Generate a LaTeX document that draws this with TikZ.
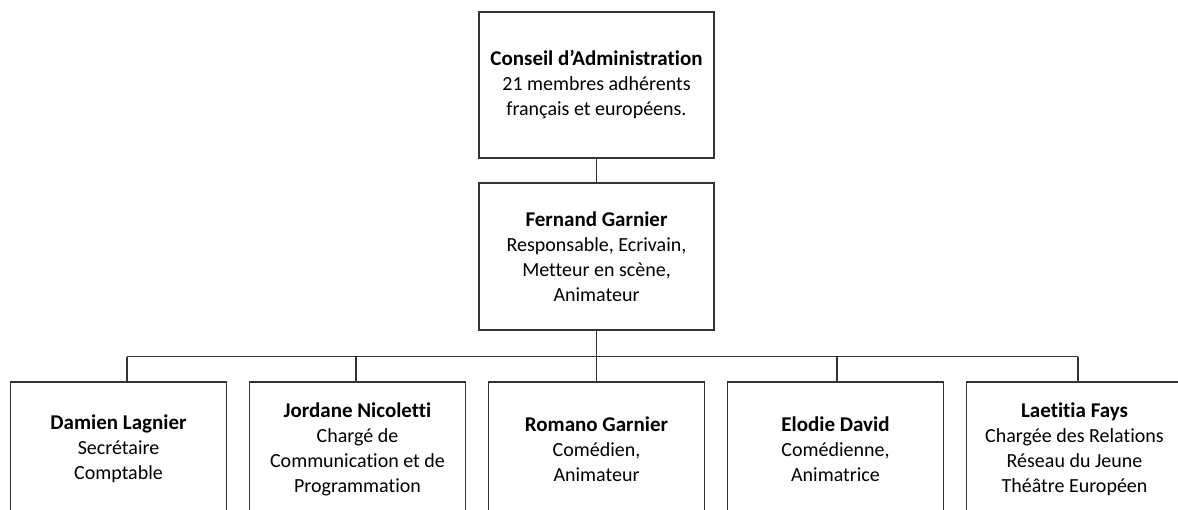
\documentclass[tikz,border=0pt]{standalone}
\usepackage{fontspec}
\setmainfont{Carlito}[Ligatures=NoCommon]
\newcommand{\nm}[1]{{\fontsize{21}{25}\selectfont\bfseries #1}}
\begin{document}
\begin{tikzpicture}[x=1pt,y=-1pt,
  box/.style={draw=black!80, line width=1.3pt, align=center, inner sep=0pt,
    text=black, font=\fontsize{20}{25}\selectfont},
  topbox/.style={box, minimum width=235pt, minimum height=146pt},
  lowbox/.style={box, minimum width=216pt, minimum height=134pt},
  link/.style={draw=black!80, line width=1.3pt}]
\useasboundingbox (0,0) rectangle (1178,509);
\begin{scope}
\clip (0,0) rectangle (1178,509);
\node[topbox] (ca) at (596.5,85) {\nm{Conseil d’Administration}\\21 membres adhérents\\français et européens.};
\node[topbox, minimum height=147pt] (fg) at (596.5,256.5) {\nm{Fernand Garnier}\\Responsable, Ecrivain,\\Metteur en scène,\\Animateur};
\node[lowbox] (dl) at (118.5,449) {\nm{Damien Lagnier}\\Secrétaire\\Comptable};
\node[lowbox] (jn) at (357.5,449) {\nm{Jordane Nicoletti}\\Chargé de\\Communication et de\\Programmation};
\node[lowbox] (rg) at (596.5,449) {\nm{Romano Garnier}\\Comédien,\\Animateur};
\node[lowbox] (ed) at (835.5,449) {\nm{Elodie David}\\Comédienne,\\Animatrice};
\node[lowbox] (lf) at (1074.5,449) {\nm{Laetitia Fays}\\Chargée des Relations\\Réseau du Jeune\\Théâtre Européen};
\end{scope}
\coordinate (b1) at (127,356.5);
\coordinate (b2) at (356,356.5);
\coordinate (b3) at (596.5,356.5);
\coordinate (b4) at (837,356.5);
\coordinate (b5) at (1078,356.5);
\draw[link] (ca.south) -- (fg.north);
\draw[link] (fg.south) -- (b3);
\draw[link] (b1) -- (b5);
\draw[link] (b1) -- (b1 |- dl.north);
\draw[link] (b2) -- (b2 |- jn.north);
\draw[link] (b3) -- (rg.north);
\draw[link] (b4) -- (b4 |- ed.north);
\draw[link] (b5) -- (b5 |- lf.north);
\end{tikzpicture}
\end{document}
